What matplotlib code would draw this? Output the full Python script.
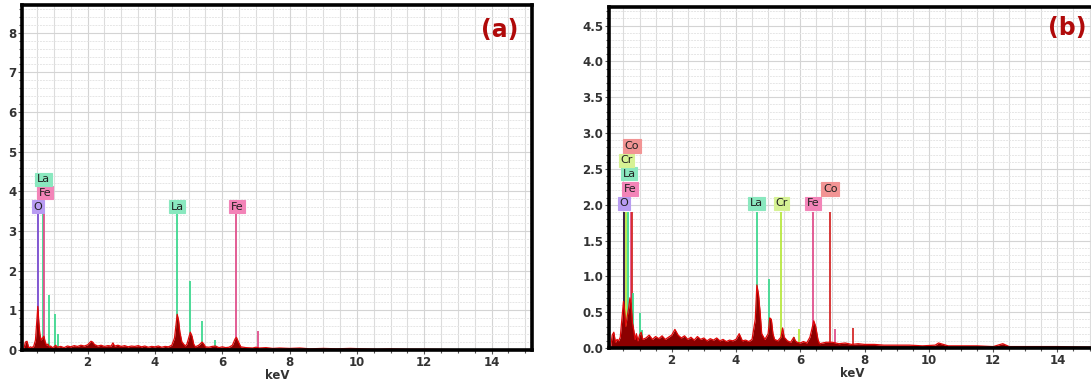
import matplotlib
matplotlib.use("Agg")
import matplotlib.pyplot as plt
from matplotlib.ticker import MultipleLocator

# ---- spectrum (a): energy (keV) vs counts ----
kev_a = [0.10, 0.15, 0.20, 0.25, 0.30, 0.35, 0.40, 0.45, 0.50, 0.52, 0.55, 0.58, 0.62, 0.66,
         0.70, 0.74, 0.78, 0.82, 0.86, 0.90, 0.95, 1.00, 1.05, 1.10, 1.20, 1.30, 1.40, 1.50,
         1.60, 1.70, 1.80, 1.90, 2.00, 2.10, 2.15, 2.20, 2.30, 2.40, 2.50, 2.60, 2.70, 2.75,
         2.80, 2.90, 3.00, 3.10, 3.20, 3.30, 3.40, 3.50, 3.60, 3.70, 3.80, 3.90, 4.00, 4.10,
         4.20, 4.30, 4.40, 4.50, 4.58, 4.62, 4.66, 4.70, 4.74, 4.80, 4.90, 4.95, 5.00, 5.05,
         5.10, 5.15, 5.20, 5.30, 5.40, 5.45, 5.50, 5.60, 5.70, 5.80, 5.90, 6.00, 6.10, 6.20,
         6.30, 6.38, 6.42, 6.48, 6.55, 6.70, 6.90, 7.00, 7.10, 7.30, 7.50, 7.70, 8.00, 8.30,
         8.60, 9.00, 9.40, 9.80, 10.2, 10.6, 11.0, 11.5, 12.0, 13.0, 14.0, 15.2]
cps_a = [0.00, 0.20, 0.22, 0.05, 0.08, 0.06, 0.10, 0.25, 0.85, 1.10, 0.70, 0.40, 0.25, 0.30,
         0.35, 0.20, 0.12, 0.15, 0.08, 0.10, 0.06, 0.08, 0.12, 0.07, 0.09, 0.06, 0.10, 0.08,
         0.11, 0.09, 0.12, 0.10, 0.13, 0.22, 0.20, 0.14, 0.10, 0.12, 0.09, 0.11, 0.10, 0.18,
         0.10, 0.12, 0.09, 0.11, 0.08, 0.10, 0.09, 0.11, 0.08, 0.10, 0.07, 0.09, 0.08, 0.10,
         0.07, 0.09, 0.08, 0.12, 0.30, 0.60, 0.90, 0.75, 0.45, 0.20, 0.10, 0.15, 0.30, 0.45,
         0.35, 0.15, 0.08, 0.12, 0.20, 0.15, 0.08, 0.07, 0.09, 0.10, 0.06, 0.08, 0.06, 0.07,
         0.12, 0.28, 0.32, 0.20, 0.08, 0.06, 0.05, 0.07, 0.05, 0.06, 0.04, 0.05, 0.04, 0.05,
         0.03, 0.04, 0.03, 0.04, 0.03, 0.02, 0.03, 0.02, 0.02, 0.01, 0.01, 0.01]

# ---- spectrum (b) ----
kev_b = [0.10, 0.15, 0.20, 0.25, 0.30, 0.35, 0.40, 0.45, 0.50, 0.53, 0.57, 0.62, 0.66, 0.70,
         0.74, 0.78, 0.82, 0.86, 0.90, 0.95, 1.00, 1.05, 1.10, 1.20, 1.30, 1.40, 1.50, 1.60,
         1.70, 1.80, 1.90, 2.00, 2.10, 2.15, 2.20, 2.30, 2.40, 2.50, 2.60, 2.70, 2.80, 2.90,
         3.00, 3.10, 3.20, 3.30, 3.40, 3.50, 3.60, 3.70, 3.80, 3.90, 4.00, 4.10, 4.20, 4.30,
         4.40, 4.50, 4.60, 4.65, 4.70, 4.75, 4.80, 4.90, 5.00, 5.05, 5.10, 5.15, 5.20, 5.30,
         5.40, 5.45, 5.50, 5.60, 5.70, 5.80, 5.85, 5.90, 6.00, 6.10, 6.20, 6.30, 6.38, 6.42,
         6.48, 6.55, 6.60, 6.80, 7.00, 7.20, 7.40, 7.60, 7.80, 8.00, 8.30, 8.60, 9.00, 9.40,
         9.80, 10.2, 10.3, 10.6, 11.0, 11.5, 12.0, 12.3, 12.5, 13.0, 14.0, 15.2]
cps_b = [0.00, 0.18, 0.22, 0.08, 0.12, 0.10, 0.15, 0.40, 0.65, 0.55, 0.30, 0.45, 0.55, 0.70,
         0.60, 0.35, 0.25, 0.12, 0.20, 0.10, 0.18, 0.22, 0.12, 0.14, 0.18, 0.12, 0.16, 0.13,
         0.17, 0.12, 0.15, 0.18, 0.26, 0.22, 0.18, 0.14, 0.17, 0.12, 0.15, 0.11, 0.16, 0.12,
         0.14, 0.10, 0.13, 0.11, 0.14, 0.10, 0.12, 0.09, 0.11, 0.10, 0.12, 0.20, 0.10, 0.11,
         0.09, 0.12, 0.40, 0.88, 0.75, 0.50, 0.20, 0.12, 0.20, 0.42, 0.40, 0.20, 0.12, 0.10,
         0.15, 0.28, 0.15, 0.10, 0.08, 0.15, 0.10, 0.08, 0.07, 0.09, 0.07, 0.15, 0.30, 0.38,
         0.30, 0.12, 0.06, 0.08, 0.08, 0.06, 0.07, 0.05, 0.06, 0.05, 0.05, 0.04, 0.04, 0.04,
         0.03, 0.04, 0.07, 0.03, 0.03, 0.03, 0.02, 0.06, 0.02, 0.02, 0.02, 0.01]

# ---- element marker lines: energy, height, element ----
lines_a_kev = [0.53, 0.66, 0.71, 0.84, 1.02, 1.12, 4.66, 5.04, 5.39, 5.79, 6.41, 7.06]
lines_a_top = [3.45, 3.45, 3.45, 1.38, 0.90, 0.40, 3.45, 1.73, 0.73, 0.25, 3.45, 0.49]
lines_a_el = ["O", "La", "Fe", "La", "La", "La", "La", "La", "La", "La", "Fe", "Fe"]

lines_b_kev = [0.52, 0.58, 0.65, 0.72, 0.78, 0.81, 1.02, 1.07, 4.66, 5.02, 5.41, 5.80, 5.95,
               6.41, 6.93, 7.07, 7.65]
lines_b_top = [1.90, 1.90, 1.90, 1.90, 1.90, 0.77, 0.49, 0.25, 1.90, 0.97, 1.90, 0.15, 0.27,
               1.90, 1.90, 0.27, 0.28]
lines_b_el = ["O", "Cr", "La", "Fe", "Co", "La", "La", "La", "La", "La", "Cr", "La", "Cr",
              "Fe", "Co", "Fe", "Co"]

# ---- label boxes: text, x (keV), y ----
labels_a_txt = ["O", "Fe", "La", "La", "Fe"]
labels_a_x = [0.53, 0.73, 0.69, 4.66, 6.43]
labels_a_y = [3.61, 3.97, 4.31, 3.61, 3.61]

labels_b_txt = ["O", "Fe", "La", "Cr", "Co", "La", "Cr", "Fe", "Co"]
labels_b_x = [0.51, 0.70, 0.68, 0.59, 0.76, 4.64, 5.41, 6.40, 6.93]
labels_b_y = [2.02, 2.22, 2.43, 2.62, 2.82, 2.02, 2.02, 2.02, 2.22]

line_col = {"O": "#7a4cd0", "La": "#3fd890", "Fe": "#e0508c", "Cr": "#b8e840", "Co": "#d42a2a"}
box_col = {"O": "#b89cf2", "La": "#8ae8bf", "Fe": "#f384b8", "Cr": "#d6f294", "Co": "#f29494"}


def draw_panel(ax, kev, cps, lk, lt, le, tx, tk, ty, ymax, ystep, hgrid, tag, tagpos,
               o_color=None):
    ax.set_xlim(0.05, 15.2)
    ax.set_ylim(0, ymax)
    # grid
    ax.xaxis.set_minor_locator(MultipleLocator(0.5))
    ax.yaxis.set_minor_locator(MultipleLocator(hgrid))
    ax.grid(which="minor", axis="x", color="#dcdcdc", lw=0.8)
    ax.grid(which="minor", axis="y", color="#e6e6e6", lw=0.7, ls=(0, (2, 1)))
    ax.grid(which="major", color="#d4d4d4", lw=0.8)
    ax.set_axisbelow(True)

    # element lines
    for e, t, el in zip(lk, lt, le):
        c = line_col[el]
        if el == "O" and o_color:
            c = o_color
        ax.vlines(e, 0, t, color=c, lw=1.3, zorder=2)

    # spectrum
    ax.fill_between(kev, 0, cps, color="#8c0000", lw=0, zorder=3)
    ax.plot(kev, cps, color="#e00808", lw=0.9, zorder=4)

    for s, x, y in zip(tx, tk, ty):
        ax.text(x, y, s, ha="center", va="center", fontsize=8, color="#202020",
                zorder=6, bbox=dict(boxstyle="square,pad=0.14", fc=box_col[s],
                                    ec=box_col[s], lw=0.8))

    ax.text(tagpos[0], tagpos[1], tag, transform=ax.transAxes, ha="center",
            va="center", fontsize=17, fontweight="bold", color="#b00a0a", zorder=7)

    ax.set_xticks(range(2, 15, 2))
    ax.yaxis.set_major_locator(MultipleLocator(ystep))
    ax.tick_params(which="both", direction="out", length=3, width=0.8, color="#555555",
                   labelsize=8.5, labelcolor="#333333", pad=1)
    ax.tick_params(which="minor", length=2)
    for lab in ax.get_xticklabels() + ax.get_yticklabels():
        lab.set_fontweight("bold")
    ax.set_xlabel("keV", fontsize=8.5, fontweight="bold", color="#333333", labelpad=0)
    for sp in ax.spines.values():
        sp.set_linewidth(2.6)
        sp.set_color("black")
        sp.set_zorder(8)


fig = plt.figure(figsize=(10.91, 3.83), dpi=100)
ax_a = fig.add_axes([22 / 1091, 33 / 383, 510 / 1091, 345 / 383])
ax_b = fig.add_axes([609 / 1091, 35 / 383, 487 / 1091, 341 / 383])

draw_panel(ax_a, kev_a, cps_a, lines_a_kev, lines_a_top, lines_a_el,
           labels_a_txt, labels_a_x, labels_a_y, 8.7, 1, 0.2, "(a)", (0.937, 0.928))
ax_a.yaxis.set_major_formatter(plt.FormatStrFormatter("%d"))

draw_panel(ax_b, kev_b, cps_b, lines_b_kev, lines_b_top, lines_b_el,
           labels_b_txt, labels_b_x, labels_b_y, 4.76, 0.5, 0.1, "(b)", (0.94, 0.938),
           o_color="#2a1036")
ax_b.yaxis.set_major_formatter(plt.FormatStrFormatter("%.1f"))

fig.savefig("out.png", dpi=100)
